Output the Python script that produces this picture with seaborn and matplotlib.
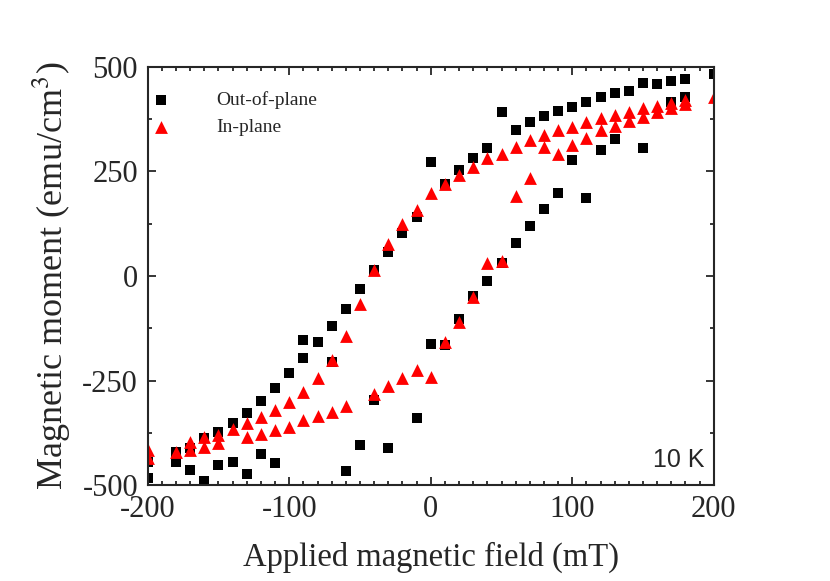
import pandas as pd
import seaborn as sns
import matplotlib.pyplot as plt
from matplotlib.ticker import MultipleLocator

# Out-of-plane loop (black squares), field in mT, moment in emu/cm3
oop_field = [200, 180, 180, 170, 170, 160, 150, 150, 140, 130, 130, 120, 120,
             110, 110, 100, 100, 90, 90, 80, 80, 70, 70, 60, 60, 50, 50,
             40, 40, 30, 30, 20, 20, 10, 10, 0, 0, -10, -10, -20, -30, -30,
             -40, -40, -50, -50, -60, -60, -70, -70, -80, -90, -90, -100,
             -110, -110, -120, -120, -130, -130, -140, -140, -150, -150,
             -160, -160, -170, -170, -180, -180, -200, -200]
oop_moment = [483, 471, 428, 465, 417, 459, 461, 305, 443, 437, 328, 427, 300,
              417, 186, 405, 278, 395, 198, 382, 160, 367, 120, 349, 80, 393, 30,
              305, -12, 281, -49, 254, -104, 220, -165, 273, -163, 142, -340, 102, 58, -412,
              14, -297, -30, -403, -80, -466, -120, -205, -158, -154, -197, -233,
              -267, -447, -298, -426, -327, -473, -351, -444, -372, -451,
              -388, -490, -412, -464, -420, -444, -484, -445]

# In-plane loop (red triangles)
ip_field = [200, 180, 180, 170, 170, 160, 160, 150, 150, 140, 140, 130, 130,
            120, 120, 110, 110, 100, 100, 90, 90, 80, 80, 70, 70, 60, 60,
            50, 50, 40, 40, 30, 30, 20, 20, 10, 10, 0, 0, -10, -10, -20, -20,
            -30, -30, -40, -40, -50, -60, -60, -70, -70, -80, -80, -90, -90,
            -100, -100, -110, -110, -120, -120, -130, -130, -140, -150, -150,
            -160, -160, -170, -170, -180, -200, -200]
ip_moment = [428, 421, 410, 414, 401, 406, 393, 401, 381, 393, 371, 386, 359,
             377, 348, 367, 331, 357, 313, 348, 292, 337, 309, 324, 234, 309, 190,
             292, 36, 281, 30, 261, -51, 242, -109, 220, -157, 198, -242, 158, -224, 124, -243,
             76, -263, 14, -282, -66, -143, -312, -202, -326, -245, -335, -277, -345,
             -302, -360, -321, -368, -337, -377, -351, -384, -365, -380, -400,
             -386, -408, -396, -416, -420, -416, -436]

x_ticks = [-200, -100, 0, 100, 200]
y_ticks = [-500, -250, 0, 250, 500]

oop = pd.DataFrame({'field': oop_field, 'moment': oop_moment})
ip = pd.DataFrame({'field': ip_field, 'moment': ip_moment})

sns.set_style("ticks")
plt.rcParams['font.family'] = ['Liberation Serif', 'DejaVu Serif']
plt.rcParams['mathtext.fontset'] = 'stix'

fig = plt.figure(figsize=(8.3, 5.81), dpi=100)
ax = fig.add_axes([0.178, 0.165, 0.682, 0.72])

sns.scatterplot(data=oop, x='field', y='moment', marker='s', color='black',
                s=60, linewidth=0, label='Out-of-plane', ax=ax)
sns.scatterplot(data=ip, x='field', y='moment', marker='^', color='red',
                s=85, linewidth=0, label='In-plane', ax=ax)

ax.set_xlim(-200, 200)
ax.set_ylim(-500, 500)
ax.set_xticks(x_ticks)
ax.set_yticks(y_ticks)
ax.set_xticklabels([str(t) for t in x_ticks])
ax.set_yticklabels([str(t) for t in y_ticks])
ax.xaxis.set_minor_locator(MultipleLocator(10))
ax.yaxis.set_minor_locator(MultipleLocator(125))
ax.tick_params(which='both', direction='in', top=True, right=True, width=1.3)
ax.tick_params(which='major', length=6, labelsize=22)
ax.tick_params(which='minor', length=3)
ax.tick_params(axis='y', pad=7)
ax.tick_params(axis='x', pad=7)
for sp in ax.spines.values():
    sp.set_linewidth(1.5)

ax.set_xlabel("Applied magnetic field (mT)", fontsize=23.5, labelpad=13)
ax.set_ylabel("Magnetic moment (emu/cm$^{3}$)", fontsize=26, labelpad=7)

ax.text(0.984, 0.06, "10 K", transform=ax.transAxes, ha='right', va='center',
        fontsize=18, family='Liberation Sans')

ax.legend(loc='upper left', bbox_to_anchor=(0, 0.955), frameon=False,
          fontsize=14, borderaxespad=0, borderpad=0.3, handlelength=0.8,
          handletextpad=2.4, labelspacing=0.45)

plt.savefig("out.png", dpi=100)
